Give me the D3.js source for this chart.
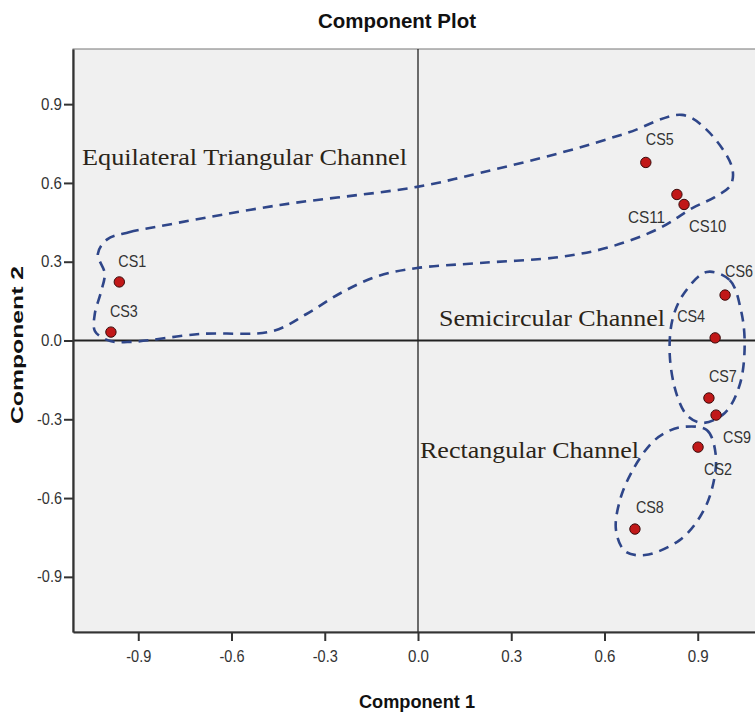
<!DOCTYPE html>
<html>
<head>
<meta charset="utf-8">
<script src="https://cdn.jsdelivr.net/npm/d3@7"></script>
<style>
  body { margin: 0; background: #fff; }
  svg { display: block; }
</style>
</head>
<body>
<svg id="chart"></svg>
<script>
// loadings
var names = ["CS1", "CS3", "CS5", "CS11", "CS10", "CS6", "CS4", "CS7", "CS9", "CS2", "CS8"];
var comp1 = [-0.961, -0.988, 0.733, 0.833, 0.856, 0.988, 0.956, 0.936, 0.959, 0.901, 0.698];
var comp2 = [0.223, 0.032, 0.678, 0.556, 0.518, 0.173, 0.010, -0.219, -0.284, -0.406, -0.718];

var tickValues = [-0.9, -0.6, -0.3, 0.0, 0.3, 0.6, 0.9];

// hand drawn groupings, in component units
var groupNames = ["Equilateral Triangular Channel", "Semicircular Channel", "Rectangular Channel"];
var triangularOutline = [
  [-1.000, 0.385], [-0.930, 0.412], [-0.800, 0.442], [-0.444, 0.516], [-0.003, 0.585],
  [0.199, 0.638], [0.457, 0.714], [0.672, 0.790], [0.849, 0.859], [0.929, 0.802],
  [1.010, 0.661], [1.006, 0.592], [0.955, 0.546], [0.884, 0.505], [0.778, 0.428],
  [0.617, 0.356], [0.457, 0.318], [0.199, 0.295], [-0.003, 0.276], [-0.130, 0.245],
  [-0.250, 0.180], [-0.360, 0.100], [-0.470, 0.035], [-0.700, 0.025], [-0.920, -0.005],
  [-0.990, -0.002], [-1.039, 0.035], [-1.040, 0.100], [-1.020, 0.185], [-1.008, 0.255],
  [-1.030, 0.330]
];
var semicircularOutline = [
  [0.929, 0.261], [1.003, 0.230], [1.039, 0.116], [1.051, -0.017], [1.035, -0.169],
  [0.987, -0.276], [0.916, -0.314], [0.868, -0.288], [0.833, -0.208], [0.810, -0.055],
  [0.820, 0.086], [0.859, 0.185]
];
var rectangularOutline = [
  [0.852, -0.329], [0.929, -0.341], [0.958, -0.436], [0.945, -0.569], [0.907, -0.672],
  [0.842, -0.760], [0.730, -0.817], [0.666, -0.802], [0.637, -0.722], [0.650, -0.607],
  [0.691, -0.493], [0.752, -0.390], [0.801, -0.348]
];

// sizes
var fullWidth = 755;
var fullHeight = 715;
var margin = {top: 49, left: 73, bottom: 83, right: -8};
var plotRight = fullWidth - margin.right;
var plotBottom = fullHeight - margin.bottom;

var svg = d3.select("#chart")
  .attr("width", fullWidth)
  .attr("height", fullHeight);

var xScale = d3.scaleLinear().domain([-1.11, 1.11]).range([margin.left, plotRight]);
var yScale = d3.scaleLinear().domain([-1.11, 1.11]).range([plotBottom, margin.top]);

var sans = "'Liberation Sans', Arial, sans-serif";

// plot background
svg.append("rect")
  .attr("x", margin.left)
  .attr("y", margin.top)
  .attr("width", plotRight - margin.left)
  .attr("height", plotBottom - margin.top)
  .attr("fill", "#f0f0f0")
  .attr("stroke", "#777")
  .attr("stroke-width", 1);

// zero reference lines
svg.append("line")
  .attr("x1", xScale(0)).attr("x2", xScale(0))
  .attr("y1", margin.top).attr("y2", plotBottom)
  .attr("stroke", "#222").attr("stroke-width", 1.3);
svg.append("line")
  .attr("x1", margin.left).attr("x2", plotRight)
  .attr("y1", yScale(0)).attr("y2", yScale(0))
  .attr("stroke", "#222").attr("stroke-width", 2);

// axes
var fmt = function(d) { return d.toFixed(1); };
var xAxis = d3.axisBottom(xScale).tickValues(tickValues).tickFormat(fmt).tickSize(9).tickSizeOuter(0).tickPadding(10);
var yAxis = d3.axisLeft(yScale).tickValues(tickValues).tickFormat(fmt).tickSize(9).tickSizeOuter(0).tickPadding(2);

var xAxisG = svg.append("g")
  .attr("transform", "translate(0," + plotBottom + ")")
  .call(xAxis);
var yAxisG = svg.append("g")
  .attr("transform", "translate(" + margin.left + ",0)")
  .call(yAxis);

[xAxisG, yAxisG].forEach(function(g) {
  g.select(".domain").attr("stroke", "#333").attr("stroke-width", 2.2);
  g.selectAll(".tick line").attr("stroke", "#333").attr("stroke-width", 2);
  g.selectAll(".tick text")
    .attr("fill", "#333")
    .style("font-family", sans)
    .style("font-size", "16px")
    .attr("textLength", function(d) { return d < 0 ? 25 : 21; })
    .attr("lengthAdjust", "spacingAndGlyphs");
});

// group outlines
var outline = d3.line()
  .x(function(d) { return xScale(d[0]); })
  .y(function(d) { return yScale(d[1]); })
  .curve(d3.curveCatmullRomClosed.alpha(0.5));

svg.append("g")
  .selectAll("path")
  .data([triangularOutline, semicircularOutline, rectangularOutline])
  .join("path")
  .attr("d", outline)
  .attr("fill", "none")
  .attr("stroke", "#2f4689")
  .attr("stroke-width", 2.6)
  .attr("stroke-dasharray", "10,7");

// group names
var groupLabelPos = [
  {x: 82, y: 165, len: 325},
  {x: 439, y: 326, len: 226},
  {x: 420, y: 458, len: 219}
];
svg.append("g")
  .selectAll("text")
  .data(groupNames)
  .join("text")
  .attr("x", function(d, i) { return groupLabelPos[i].x; })
  .attr("y", function(d, i) { return groupLabelPos[i].y; })
  .attr("textLength", function(d, i) { return groupLabelPos[i].len; })
  .attr("lengthAdjust", "spacingAndGlyphs")
  .attr("fill", "#2b2418")
  .style("font-family", "'Liberation Serif', 'Times New Roman', serif")
  .style("font-size", "24px")
  .text(function(d) { return d; });

// points
var points = names.map(function(n, i) {
  return {name: n, x: comp1[i], y: comp2[i]};
});

// label offsets from the dot, px
var labelOffset = {
  CS1: [-1, -15], CS3: [-1, -15], CS5: [0, -17], CS11: [-49, 29], CS10: [5, 28],
  CS6: [0, -18], CS4: [-38, -16], CS7: [0, -16], CS9: [7, 28], CS2: [6, 28], CS8: [1, -16]
};

svg.append("g")
  .selectAll("text")
  .data(points)
  .join("text")
  .attr("x", function(d) { return xScale(d.x) + labelOffset[d.name][0]; })
  .attr("y", function(d) { return yScale(d.y) + labelOffset[d.name][1]; })
  .attr("textLength", function(d) { return d.name.length * 9.3; })
  .attr("lengthAdjust", "spacingAndGlyphs")
  .attr("fill", "#333")
  .style("font-family", sans)
  .style("font-size", "17px")
  .text(function(d) { return d.name; });

svg.append("g")
  .selectAll("circle")
  .data(points)
  .join("circle")
  .attr("cx", function(d) { return xScale(d.x); })
  .attr("cy", function(d) { return yScale(d.y); })
  .attr("r", 5.2)
  .attr("fill", "#c11818")
  .attr("stroke", "#3a0b0b")
  .attr("stroke-width", 1);

// titles
svg.append("text")
  .attr("x", 397)
  .attr("y", 28)
  .attr("text-anchor", "middle")
  .attr("textLength", 158)
  .attr("lengthAdjust", "spacingAndGlyphs")
  .attr("fill", "#111")
  .style("font-family", sans)
  .style("font-weight", "bold")
  .style("font-size", "21px")
  .text("Component Plot");

svg.append("text")
  .attr("x", 417)
  .attr("y", 708)
  .attr("text-anchor", "middle")
  .attr("textLength", 116)
  .attr("lengthAdjust", "spacingAndGlyphs")
  .attr("fill", "#111")
  .style("font-family", sans)
  .style("font-weight", "bold")
  .style("font-size", "19px")
  .text("Component 1");

svg.append("text")
  .attr("transform", "translate(23," + 345 + ") rotate(-90)")
  .attr("text-anchor", "middle")
  .attr("textLength", 158)
  .attr("lengthAdjust", "spacingAndGlyphs")
  .attr("fill", "#111")
  .style("font-family", sans)
  .style("font-weight", "bold")
  .style("font-size", "17px")
  .text("Component 2");
</script>
</body>
</html>
